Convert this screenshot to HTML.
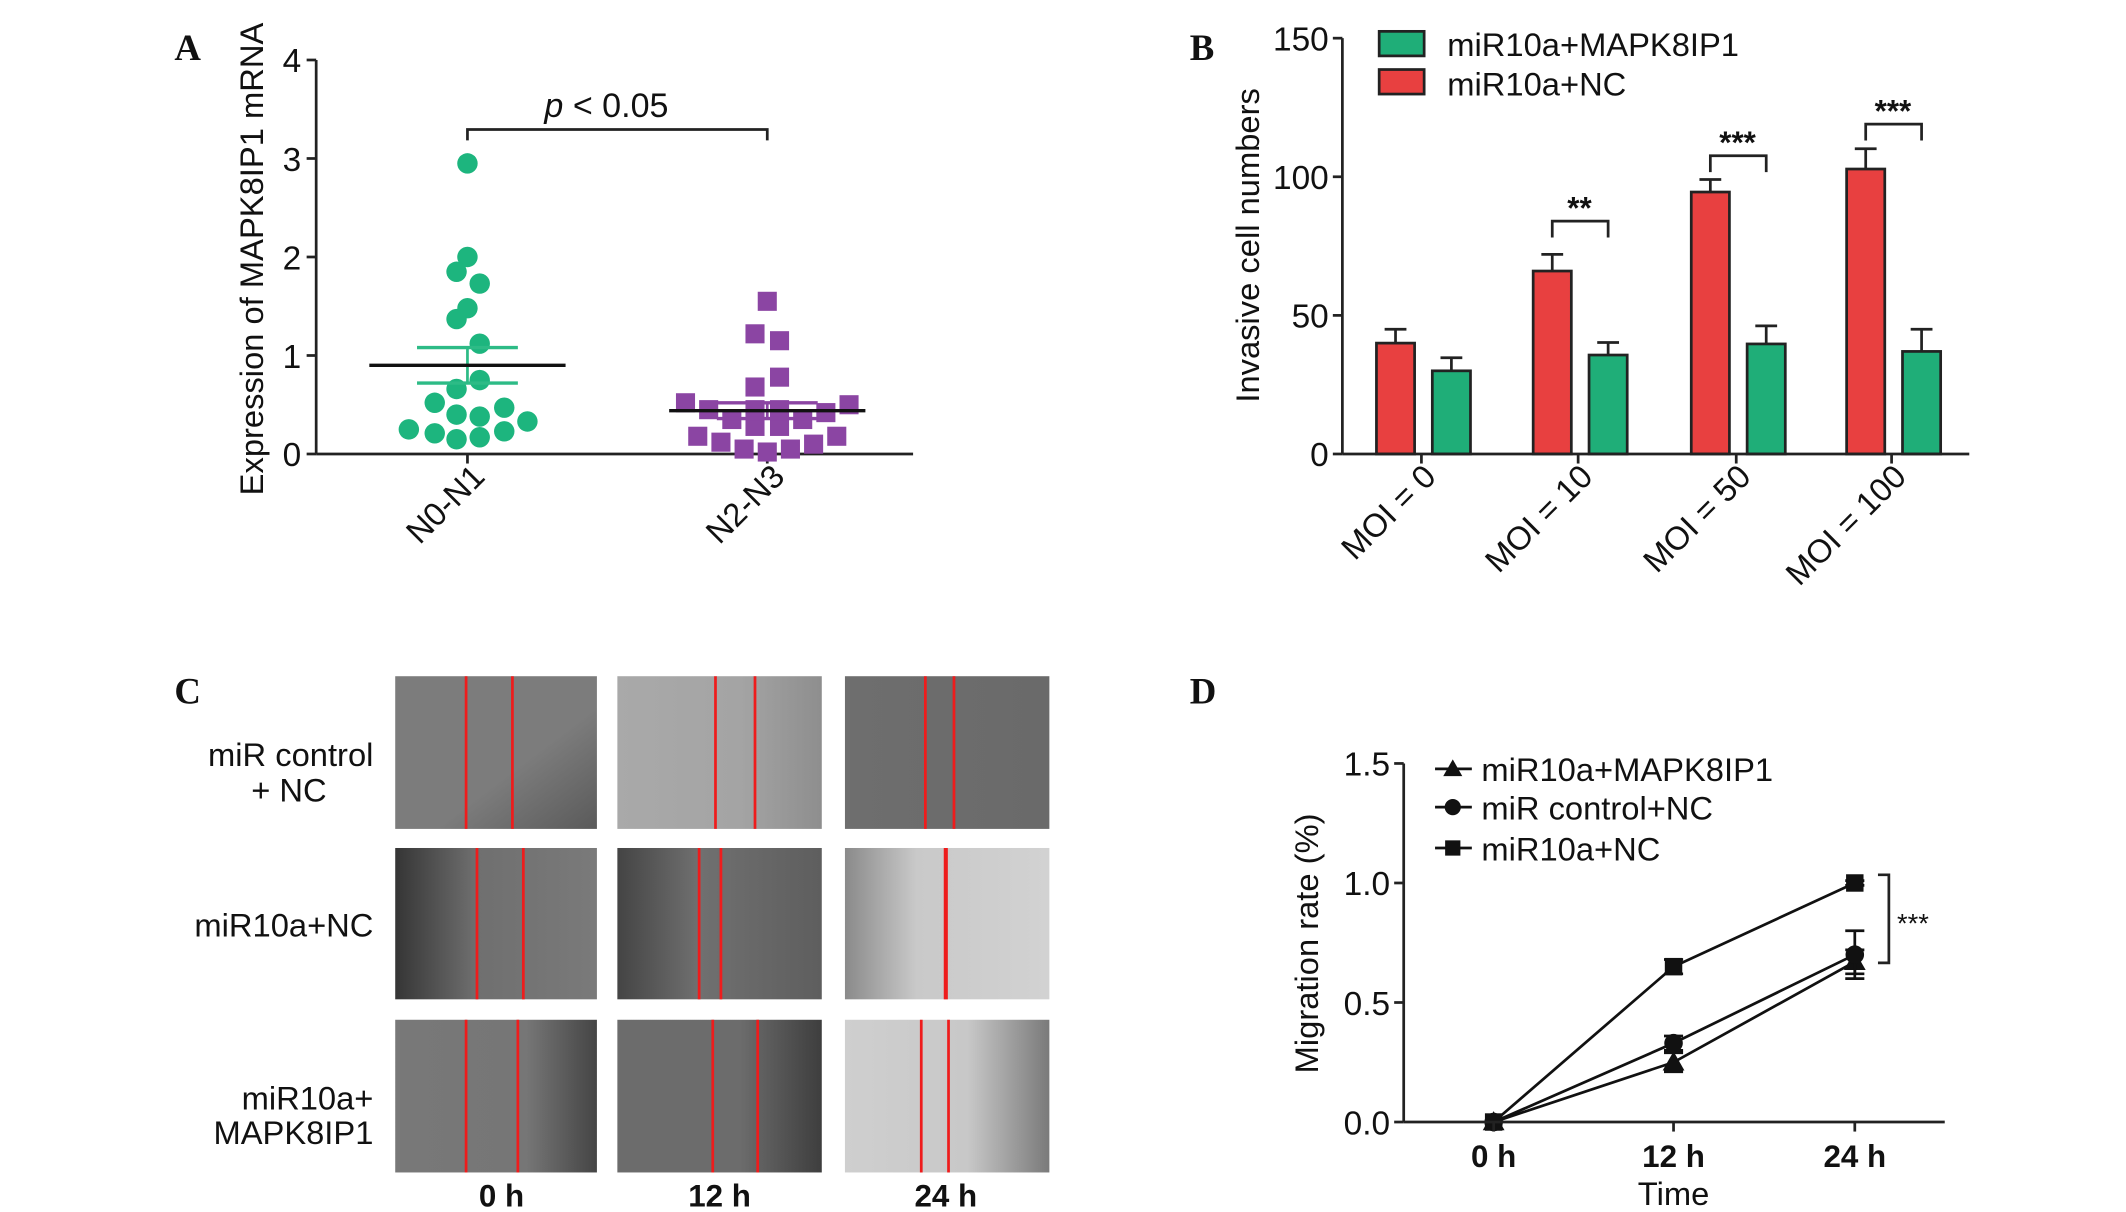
<!DOCTYPE html>
<html><head><meta charset="utf-8"><style>
html,body{margin:0;padding:0;background:#fff;}
svg{display:block;}
text{font-family:"Liberation Sans",Arial,sans-serif;fill:#111;}
.lt{font-family:"Liberation Serif",serif;font-weight:bold;font-size:27px;}
</style></head><body>
<svg id="fig" width="2126" height="1212" viewBox="0 0 1560 889" preserveAspectRatio="none" xmlns="http://www.w3.org/2000/svg">
<defs>
<linearGradient id="g11" x1="0" x2="1" y1="0" y2="1"><stop offset="0.6" stop-color="#7c7c7c"/><stop offset="1" stop-color="#5a5a5a"/></linearGradient>
<linearGradient id="g12" x1="0" x2="1"><stop offset="0" stop-color="#a9a9a9"/><stop offset="0.6" stop-color="#a4a4a4"/><stop offset="1" stop-color="#8e8e8e"/></linearGradient>
<linearGradient id="g13" x1="0" x2="1"><stop offset="0" stop-color="#6e6e6e"/><stop offset="1" stop-color="#6a6a6a"/></linearGradient>
<linearGradient id="g21" x1="0" x2="1"><stop offset="0" stop-color="#353535"/><stop offset="0.4" stop-color="#6f6f6f"/><stop offset="1" stop-color="#7a7a7a"/></linearGradient>
<linearGradient id="g22" x1="0" x2="1"><stop offset="0" stop-color="#444"/><stop offset="0.4" stop-color="#707070"/><stop offset="1" stop-color="#5e5e5e"/></linearGradient>
<linearGradient id="g23" x1="0" x2="1"><stop offset="0" stop-color="#8a8a8a"/><stop offset="0.35" stop-color="#c9c9c9"/><stop offset="1" stop-color="#d2d2d2"/></linearGradient>
<linearGradient id="g31" x1="0" x2="1"><stop offset="0" stop-color="#787878"/><stop offset="0.65" stop-color="#767676"/><stop offset="1" stop-color="#454545"/></linearGradient>
<linearGradient id="g32" x1="0" x2="1"><stop offset="0" stop-color="#6c6c6c"/><stop offset="0.6" stop-color="#6c6c6c"/><stop offset="1" stop-color="#3e3e3e"/></linearGradient>
<linearGradient id="g33" x1="0" x2="1"><stop offset="0" stop-color="#cfcfcf"/><stop offset="0.6" stop-color="#c8c8c8"/><stop offset="1" stop-color="#7a7a7a"/></linearGradient>
</defs>
<text class="lt" x="128" y="44">A</text>
<text class="lt" x="873" y="44">B</text>
<text class="lt" x="128" y="516">C</text>
<text class="lt" x="873" y="516">D</text>
<g id="pa"></g>
<g id="pb"></g>
<g id="pc"></g>
<g id="pd"></g>
</svg>
<script>
// Panel A data
const aGroups = ["N0-N1","N2-N3"];
const aGreenVals = [2.95,2.0,1.85,1.73,1.48,1.37,1.12,0.75,0.66,0.52,0.47,0.4,0.38,0.33,0.25,0.21,0.23,0.15,0.17];
const aGreenJit = [0,0,-8,9,0,-8,9,9,-8,-24,27,-8,9,44,-43,-24,27,-8,9];
const aPurpleVals = [1.55,1.22,1.15,0.78,0.68,0.52,0.45,0.35,0.28,0.28,0.35,0.42,0.5,0.18,0.12,0.05,0.02,0.05,0.1,0.18,0.45,0.45];
const aPurpleJit = [0,-9,9,9,-9,-60,-43,-26,-9,9,26,43,60,-51,-34,-17,0,17,34,51,-9,9];
const aMeans = [0.9,0.44];
const aSem = [0.18,0.08];
const aTicks = [0,1,2,3,4];
// Panel B data
const bCats = ["MOI = 0","MOI = 10","MOI = 50","MOI = 100"];
const bNC = [40,66,94.5,102.8];
const bNCErr = [5,6,4.5,7.3];
const bMAP = [30,35.7,39.7,37];
const bMAPErr = [4.7,4.5,6.5,8];
const bSig = ["","**","***","***"];
const bSigY = [0,84,107.6,119];
const bTicks = [0,50,100,150];
// Panel D data
const dTimes = ["0 h","12 h","24 h"];
const dMAP = [0,0.25,0.67];
const dMAPErr = [0,0.04,0.05];
const dCtrl = [0,0.33,0.7];
const dCtrlErr = [0,0.03,0.1];
const dNC = [0,0.65,1.0];
const dNCErr = [0,0.03,0.01];
const dTicks = [0,0.5,1.0,1.5];

const NS="http://www.w3.org/2000/svg";
function mk(parent,tag,attrs,txt){const e=document.createElementNS(NS,tag);for(const k in attrs)e.setAttribute(k,attrs[k]);if(txt!==undefined)e.textContent=txt;parent.appendChild(e);return e;}

// ---------- Panel A ----------
(function(){
const g=document.getElementById('pa');
const x0=232,x1=670,yb=333,yt=44;
const ya=v=>yb-(v/4)*(yb-yt);
const xc=[343,563];
let e=mk(g,'line',{x1:x0,y1:yt,x2:x0,y2:yb,stroke:'#222','stroke-width':2});

e=mk(g,'line',{x1:x0,y1:yb,x2:x1,y2:yb,stroke:'#222','stroke-width':2});

aTicks.forEach(t=>{mk(g,'line',{x1:x0-7,y1:ya(t),x2:x0,y2:ya(t),stroke:'#222','stroke-width':2});
 e=mk(g,'text',{x:x0-11,y:ya(t)+9,'text-anchor':'end','font-size':24.5},String(t));
 });
e=mk(g,'text',{transform:'translate(193,190) rotate(-90)','text-anchor':'middle','font-size':24},'Expression of MAPK8IP1 mRNA');

aGroups.forEach((c,i)=>{mk(g,'line',{x1:xc[i],y1:yb,x2:xc[i],y2:yb+7,stroke:'#222','stroke-width':2});
 e=mk(g,'text',{transform:`translate(${xc[i]+14},${yb+18}) rotate(-45)`,'text-anchor':'end','font-size':24},c);
 });
aGreenVals.forEach((v,i)=>{e=mk(g,'circle',{cx:xc[0]+aGreenJit[i],cy:ya(v),r:7.5,fill:'#1db57e'});
 });
aPurpleVals.forEach((v,i)=>{e=mk(g,'rect',{x:xc[1]+aPurpleJit[i]-7,y:ya(v)-7,width:14,height:14,fill:'#8b45a3'});
 });
const semCol=['#2dbb86','#8b45a3'];
aMeans.forEach((m,i)=>{const c=xc[i];
 mk(g,'line',{x1:c,y1:ya(m+aSem[i]),x2:c,y2:ya(m-aSem[i]),stroke:semCol[i],'stroke-width':2});
 [m+aSem[i],m-aSem[i]].forEach(v=>mk(g,'line',{x1:c-37,y1:ya(v),x2:c+37,y2:ya(v),stroke:semCol[i],'stroke-width':2.5}));
 e=mk(g,'line',{x1:c-72,y1:ya(m),x2:c+72,y2:ya(m),stroke:'#111','stroke-width':2.5});
 });
e=mk(g,'path',{d:`M${xc[0]} 103 V95 H${xc[1]} V103`,fill:'none',stroke:'#222','stroke-width':2});

e=mk(g,'text',{x:445,y:86,'text-anchor':'middle','font-size':25});
e.innerHTML='<tspan font-style="italic">p</tspan> &lt; 0.05';

})();

// ---------- Panel B ----------
(function(){
const g=document.getElementById('pb');
const x0=985,x1=1445,yb=333,yt=28;
const yb_=v=>yb-(v/150)*(yb-yt);
const tick=[1043,1158,1274,1388];
let e;
bCats.forEach((c,i)=>{
 const t=tick[i];
 [[bNC,bNCErr,t-33,'#e84040','b-bar-nc'],[bMAP,bMAPErr,t+8,'#1fae78','b-bar-mapk8ip1']].forEach(([vals,errs,xl,col,nm])=>{
  const v=vals[i],er=errs[i];
  mk(g,'line',{x1:xl+14,y1:yb_(v),x2:xl+14,y2:yb_(v+er),stroke:'#222','stroke-width':2});
  mk(g,'line',{x1:xl+6,y1:yb_(v+er),x2:xl+22,y2:yb_(v+er),stroke:'#222','stroke-width':2});
  e=mk(g,'rect',{x:xl,y:yb_(v),width:28,height:yb-yb_(v),fill:col,stroke:'#222','stroke-width':2});
  
 });
 mk(g,'line',{x1:t,y1:yb,x2:t,y2:yb+7,stroke:'#222','stroke-width':2});
 e=mk(g,'text',{transform:`translate(${t+12},${yb+18}) rotate(-45)`,'text-anchor':'end','font-size':24},c);
 
 if(bSig[i]){const y=yb_(bSigY[i]);
  e=mk(g,'path',{d:`M${t-19} ${y+12} V${y} H${t+22} V${y+12}`,fill:'none',stroke:'#222','stroke-width':2});
  
  e=mk(g,'text',{x:t+1,y:y-2,'text-anchor':'middle','font-size':23,'font-weight':'bold'},bSig[i]);
  }
});
e=mk(g,'line',{x1:x0,y1:yt,x2:x0,y2:yb,stroke:'#222','stroke-width':2});

e=mk(g,'line',{x1:x0,y1:yb,x2:x1,y2:yb,stroke:'#222','stroke-width':2});

bTicks.forEach(t=>{mk(g,'line',{x1:x0-7,y1:yb_(t),x2:x0,y2:yb_(t),stroke:'#222','stroke-width':2});
 e=mk(g,'text',{x:x0-10,y:yb_(t)+9,'text-anchor':'end','font-size':24.5},String(t));
 });
e=mk(g,'text',{transform:'translate(924,180) rotate(-90)','text-anchor':'middle','font-size':24},'Invasive cell numbers');

e=mk(g,'rect',{x:1012,y:23,width:33,height:18,fill:'#1fae78',stroke:'#222','stroke-width':2});

e=mk(g,'text',{x:1062,y:41,'font-size':24},'miR10a+MAPK8IP1');

e=mk(g,'rect',{x:1012,y:51,width:33,height:18,fill:'#e84040',stroke:'#222','stroke-width':2});

e=mk(g,'text',{x:1062,y:70,'font-size':24},'miR10a+NC');

})();

// ---------- Panel C ----------
(function(){
const g=document.getElementById('pc');
const cols=[[290,148],[453,150],[620,150]];
const rows=[[496,112],[622,111],[748,112]];
const lines=[[[342,376],[525,554],[679,700]],[[350,384],[513,529],[694]],[[342,380],[523,556],[676,696]]];
let e;
rows.forEach((r,ri)=>cols.forEach((c,ci)=>{
 e=mk(g,'rect',{x:c[0],y:r[0],width:c[1],height:r[1],fill:`url(#g${ri+1}${ci+1})`});
 
 lines[ri][ci].forEach(x=>{e=mk(g,'line',{x1:x,y1:r[0],x2:x,y2:r[0]+r[1],stroke:'#ee1c1c','stroke-width':lines[ri][ci].length===1?3:2});
  });
}));
const labs=[["miR control",562],["+ NC",588],["miR10a+NC",687],["miR10a+",814],["MAPK8IP1",839]];
labs.forEach(([t,y])=>{e=mk(g,'text',{x:t==='+ NC'?212:274,y:y,'text-anchor':t==='+ NC'?'middle':'end','font-size':24},t);
 });
[["0 h",368],["12 h",528],["24 h",694]].forEach(([t,x])=>{e=mk(g,'text',{x:x,y:885,'text-anchor':'middle','font-size':23,'font-weight':'bold'},t);
 });
})();

// ---------- Panel D ----------
(function(){
const g=document.getElementById('pd');
const x0=1030,x1=1427,yb=823,yt=560;
const yd=v=>yb-(v/1.5)*(yb-yt);
const xs=[1096,1228,1361];
let e;
const series=[[dMAP,dMAPErr,'tri','d-series-mapk8ip1'],[dCtrl,dCtrlErr,'circ','d-series-control'],[dNC,dNCErr,'sq','d-series-nc']];
function marker(par,type,x,y,s){
 if(type==='tri')return mk(par,'path',{d:`M${x} ${y-s} L${x+s} ${y+s*0.75} L${x-s} ${y+s*0.75}Z`,fill:'#111'});
 if(type==='circ')return mk(par,'circle',{cx:x,cy:y,r:s*0.85,fill:'#111'});
 return mk(par,'rect',{x:x-s*0.8,y:y-s*0.8,width:s*1.6,height:s*1.6,fill:'#111'});
}
series.forEach(([vals,errs,type,nm])=>{
 e=mk(g,'polyline',{points:vals.map((v,i)=>`${xs[i]},${yd(v)}`).join(' '),fill:'none',stroke:'#111','stroke-width':2});
 
 vals.forEach((v,i)=>{const er=errs[i];
  if(er>0){mk(g,'line',{x1:xs[i],y1:yd(v-er),x2:xs[i],y2:yd(v+er),stroke:'#111','stroke-width':2});
   [v-er,v+er].forEach(w=>mk(g,'line',{x1:xs[i]-7,y1:yd(w),x2:xs[i]+7,y2:yd(w),stroke:'#111','stroke-width':2}));}
  e=marker(g,type,xs[i],yd(v),8);
  });
});
e=mk(g,'line',{x1:x0,y1:yt,x2:x0,y2:yb,stroke:'#222','stroke-width':2});

e=mk(g,'line',{x1:x0,y1:yb,x2:x1,y2:yb,stroke:'#222','stroke-width':2});

dTicks.forEach(t=>{mk(g,'line',{x1:x0-7,y1:yd(t),x2:x0,y2:yd(t),stroke:'#222','stroke-width':2});
 e=mk(g,'text',{x:x0-10,y:yd(t)+9,'text-anchor':'end','font-size':24.5},t.toFixed(1));
 });
dTimes.forEach((t,i)=>{mk(g,'line',{x1:xs[i],y1:yb,x2:xs[i],y2:yb+7,stroke:'#222','stroke-width':2});
 e=mk(g,'text',{x:xs[i],y:856,'text-anchor':'middle','font-size':23,'font-weight':'bold'},t);
 });
e=mk(g,'text',{x:1228,y:884,'text-anchor':'middle','font-size':24},'Time');

e=mk(g,'text',{transform:'translate(967,692) rotate(-90)','text-anchor':'middle','font-size':24},'Migration rate (%)');

[['tri','miR10a+MAPK8IP1',564],['circ','miR control+NC',592],['sq','miR10a+NC',622]].forEach(([tp,lab,y])=>{
 mk(g,'line',{x1:1053,y1:y,x2:1080,y2:y,stroke:'#111','stroke-width':2});
 e=marker(g,tp,1066,y,7);
 
 e=mk(g,'text',{x:1087,y:y+9,'font-size':24},lab);
 });
e=mk(g,'path',{d:`M1378 ${yd(dNC[2])-6} H1386 V${yd(dCtrl[2])+6} H1378`,fill:'none',stroke:'#222','stroke-width':2});

e=mk(g,'text',{x:1392,y:684,'font-size':20,fill:'#777'},'***');

})();
</script>
</body></html>
